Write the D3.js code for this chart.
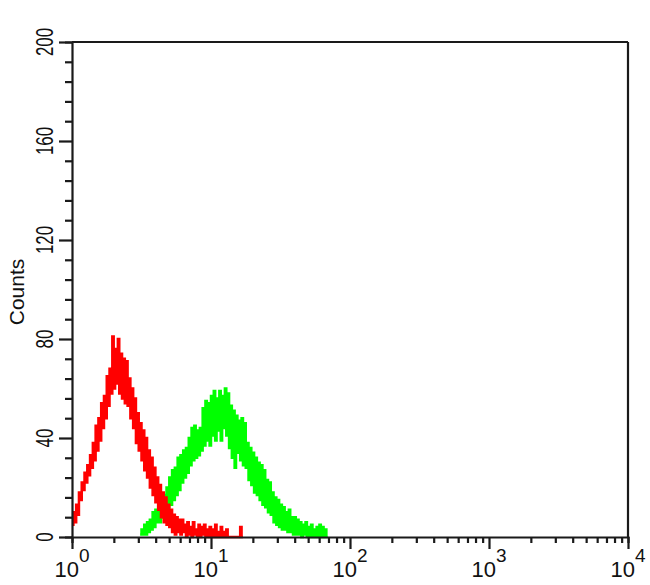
<!DOCTYPE html>
<html><head><meta charset="utf-8">
<script src="https://cdn.jsdelivr.net/npm/d3@7"></script>
<style>html,body{margin:0;padding:0;background:#fff;}svg{display:block;}</style>
</head><body>
<script>
// ---- data ----
const binWidth = 0.01; // decades per histogram bin
const redStart = 0.00;  // log10 of first red bin
const greenStart = 0.49; // log10 of first green bin
const redCounts = [5,10,6,13,9,18,15,22,19,26,22,29,25,33,28,38,31,45,35,48,39,54,44,57,48,65,53,68,58,81,60,76,62,80,58,74,56,72,54,71,53,64,48,60,44,56,38,50,35,46,31,43,27,40,24,35,20,32,17,28,14,24,11,21,8,18,6,16,5,13,4,11,2,9,1,8,2,7,1,7,2,5,0,6,1,4,0,6,1,3,0,5,0,4,1,5,0,3,0,4,0,3,0,5,0,2,0,4,0,2,0,3,0,0,0,0,0,0,0,0,0,4,0];
const greenCounts = [1,3,1,5,1,6,2,7,3,10,4,11,6,13,6,14,8,17,10,20,12,24,13,27,15,28,17,32,19,33,22,35,24,36,26,40,29,44,31,45,32,43,33,44,35,52,37,55,39,54,37,57,41,59,39,56,43,59,39,57,44,60,41,58,36,53,32,51,28,49,34,47,31,48,29,46,28,38,23,36,21,34,18,32,17,30,15,29,13,27,12,23,10,22,9,18,6,16,5,15,4,13,3,12,3,10,2,11,2,8,1,8,1,7,1,6,0,5,1,6,0,4,0,5,0,3,0,4,0,5,0,4,0,3,0];
const xTickLabels = ["0","1","2","3","4"];   // exponents of 10
const yTickLabels = [0,40,80,120,160,200];
const yLabel = "Counts";
const seriesColors = {red:"#ff0000", green:"#00ff00"};

// ---- layout ----
const W = 650, H = 585;
const L = 72, R = 628, T = 42, B = 537;
const svg = d3.select("body").append("svg").attr("width", W).attr("height", H);
const x = d3.scaleLog().domain([1, 10000]).range([L, R]);
const y = d3.scaleLinear().domain([0, 200]).range([B, T]);

function pts(start, counts) {
  const p = counts.map((c, i) => [Math.pow(10, start + i * binWidth), c]);
  p.push([Math.pow(10, start + counts.length * binWidth), counts[counts.length - 1]]);
  return p;
}
const line = d3.line().x(d => x(d[0])).y(d => y(d[1])).curve(d3.curveStepAfter);

svg.append("path").datum(pts(greenStart, greenCounts)).attr("d", line)
  .attr("fill", "none").attr("stroke", seriesColors.green).attr("stroke-width", 2.5);
svg.append("path").datum(pts(redStart, redCounts)).attr("d", line)
  .attr("fill", "none").attr("stroke", seriesColors.red).attr("stroke-width", 2.5);

const axisColor = "#1a1a1a";
// frame top & right
svg.append("line").attr("x1", L).attr("x2", R).attr("y1", T).attr("y2", T).attr("stroke", axisColor).attr("stroke-width", 2.2);
svg.append("line").attr("x1", R).attr("x2", R).attr("y1", T).attr("y2", B).attr("stroke", axisColor).attr("stroke-width", 2.2);

// y axis
const yAxis = d3.axisLeft(y).tickValues(d3.range(0, 201, 8)).tickFormat("").tickSizeOuter(0)
  .tickSize(7);
const gy = svg.append("g").attr("transform", `translate(${L},0)`).call(yAxis);
gy.selectAll(".tick line").attr("stroke", axisColor).attr("stroke-width", 2.2)
  .attr("x2", d => (d % 40 === 0) ? -13 : -7);
gy.select(".domain").attr("stroke", axisColor).attr("stroke-width", 2.2);

// x axis
const minor = [];
for (let e = 0; e < 4; e++) for (let k = 1; k < 10; k++) minor.push(k * Math.pow(10, e));
minor.push(10000);
const xAxis = d3.axisBottom(x).tickValues(minor).tickFormat("").tickSizeOuter(0).tickSize(6);
const gx = svg.append("g").attr("transform", `translate(0,${B})`).call(xAxis);
gx.selectAll(".tick line").attr("stroke", axisColor).attr("stroke-width", 2.2)
  .attr("y2", d => (Math.abs(Math.log10(d) - Math.round(Math.log10(d))) < 1e-9) ? 12 : 6);
gx.select(".domain").attr("stroke", axisColor).attr("stroke-width", 2.2);

// y tick labels
yTickLabels.forEach(v => {
  svg.append("text").attr("transform", `translate(53,${y(v)}) rotate(-90) scale(0.72,1)`)
    .attr("text-anchor", "middle").attr("font-family", "Liberation Sans, Arial, sans-serif")
    .attr("font-size", 23.5).attr("fill", "#111").text(v);
});
// x tick labels
xTickLabels.forEach((e, i) => {
  const t = svg.append("text").attr("x", x(Math.pow(10, i))).attr("y", 577)
    .attr("text-anchor", "middle").attr("font-family", "Liberation Sans, Arial, sans-serif")
    .attr("font-size", 22).attr("fill", "#111");
  t.append("tspan").text("10");
  t.append("tspan").attr("dy", -15).attr("font-size", 19).text(e);
});
// y label
svg.append("text").attr("transform", `translate(24,292) rotate(-90)`)
  .attr("text-anchor", "middle").attr("font-family", "Liberation Sans, Arial, sans-serif")
  .attr("font-size", 21).attr("fill", "#111").text(yLabel);
</script>
</body></html>
